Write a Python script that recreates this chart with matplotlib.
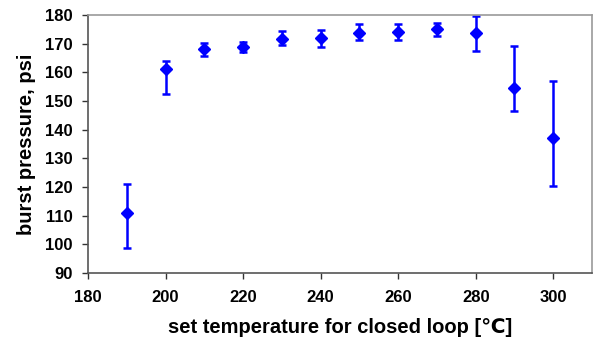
import matplotlib
matplotlib.use("Agg")
import matplotlib.pyplot as plt
import numpy as np

temps = [190, 200, 210, 220, 230, 240, 250, 260, 270, 280, 290, 300]
pressure = [111.0, 161.2, 168.1, 168.9, 171.6, 172.1, 173.6, 174.0, 175.1, 173.6, 154.4, 137.0]
err_top = [121.1, 164.0, 170.2, 170.5, 174.4, 174.8, 176.8, 176.8, 177.2, 179.5, 169.1, 157.1]
err_bottom = [98.7, 152.3, 165.7, 167.2, 169.4, 168.9, 171.3, 171.3, 172.8, 167.5, 146.4, 120.4]

x_ticks = [180, 200, 220, 240, 260, 280, 300]
y_ticks = [90, 100, 110, 120, 130, 140, 150, 160, 170, 180]

plt.rcParams['font.family'] = ['Liberation Sans', 'DejaVu Sans']

fig = plt.figure(figsize=(5.95, 3.47), dpi=100)
ax = fig.add_axes([0.148, 0.213, 0.847, 0.744])

p = np.array(pressure)
lower = p - np.array(err_bottom)
upper = np.array(err_top) - p
ax.errorbar(temps, pressure, yerr=[lower, upper], fmt='D', color='#0000FF',
            markersize=6, elinewidth=1.8, capsize=3, capthick=1.8, ecolor='#0000FF')

ax.set_xlim(180, 310)
ax.set_ylim(90, 180)
ax.set_xticks(x_ticks)
ax.set_yticks(y_ticks)
ax.tick_params(direction='out', length=4.3, width=1, colors='#333333', labelcolor='black',
               labelsize=12)
ax.tick_params(axis='y', pad=7)
ax.tick_params(axis='x', pad=8)
for lab in ax.get_xticklabels() + ax.get_yticklabels():
    lab.set_fontweight('bold')

for s in ['left', 'bottom']:
    ax.spines[s].set_color('#555555')
    ax.spines[s].set_linewidth(1.2)
for s in ['top', 'right']:
    ax.spines[s].set_color('#999999')
    ax.spines[s].set_linewidth(1.2)

ax.set_xlabel('set temperature for closed loop [\u2103]', fontsize=14.5, fontweight='bold')
ax.set_ylabel('burst pressure, psi', fontsize=14.5, fontweight='bold')
ax.xaxis.set_label_coords(0.5, -0.175)
ax.yaxis.set_label_coords(-0.103, 0.5)

fig.savefig('out.png', dpi=100)
